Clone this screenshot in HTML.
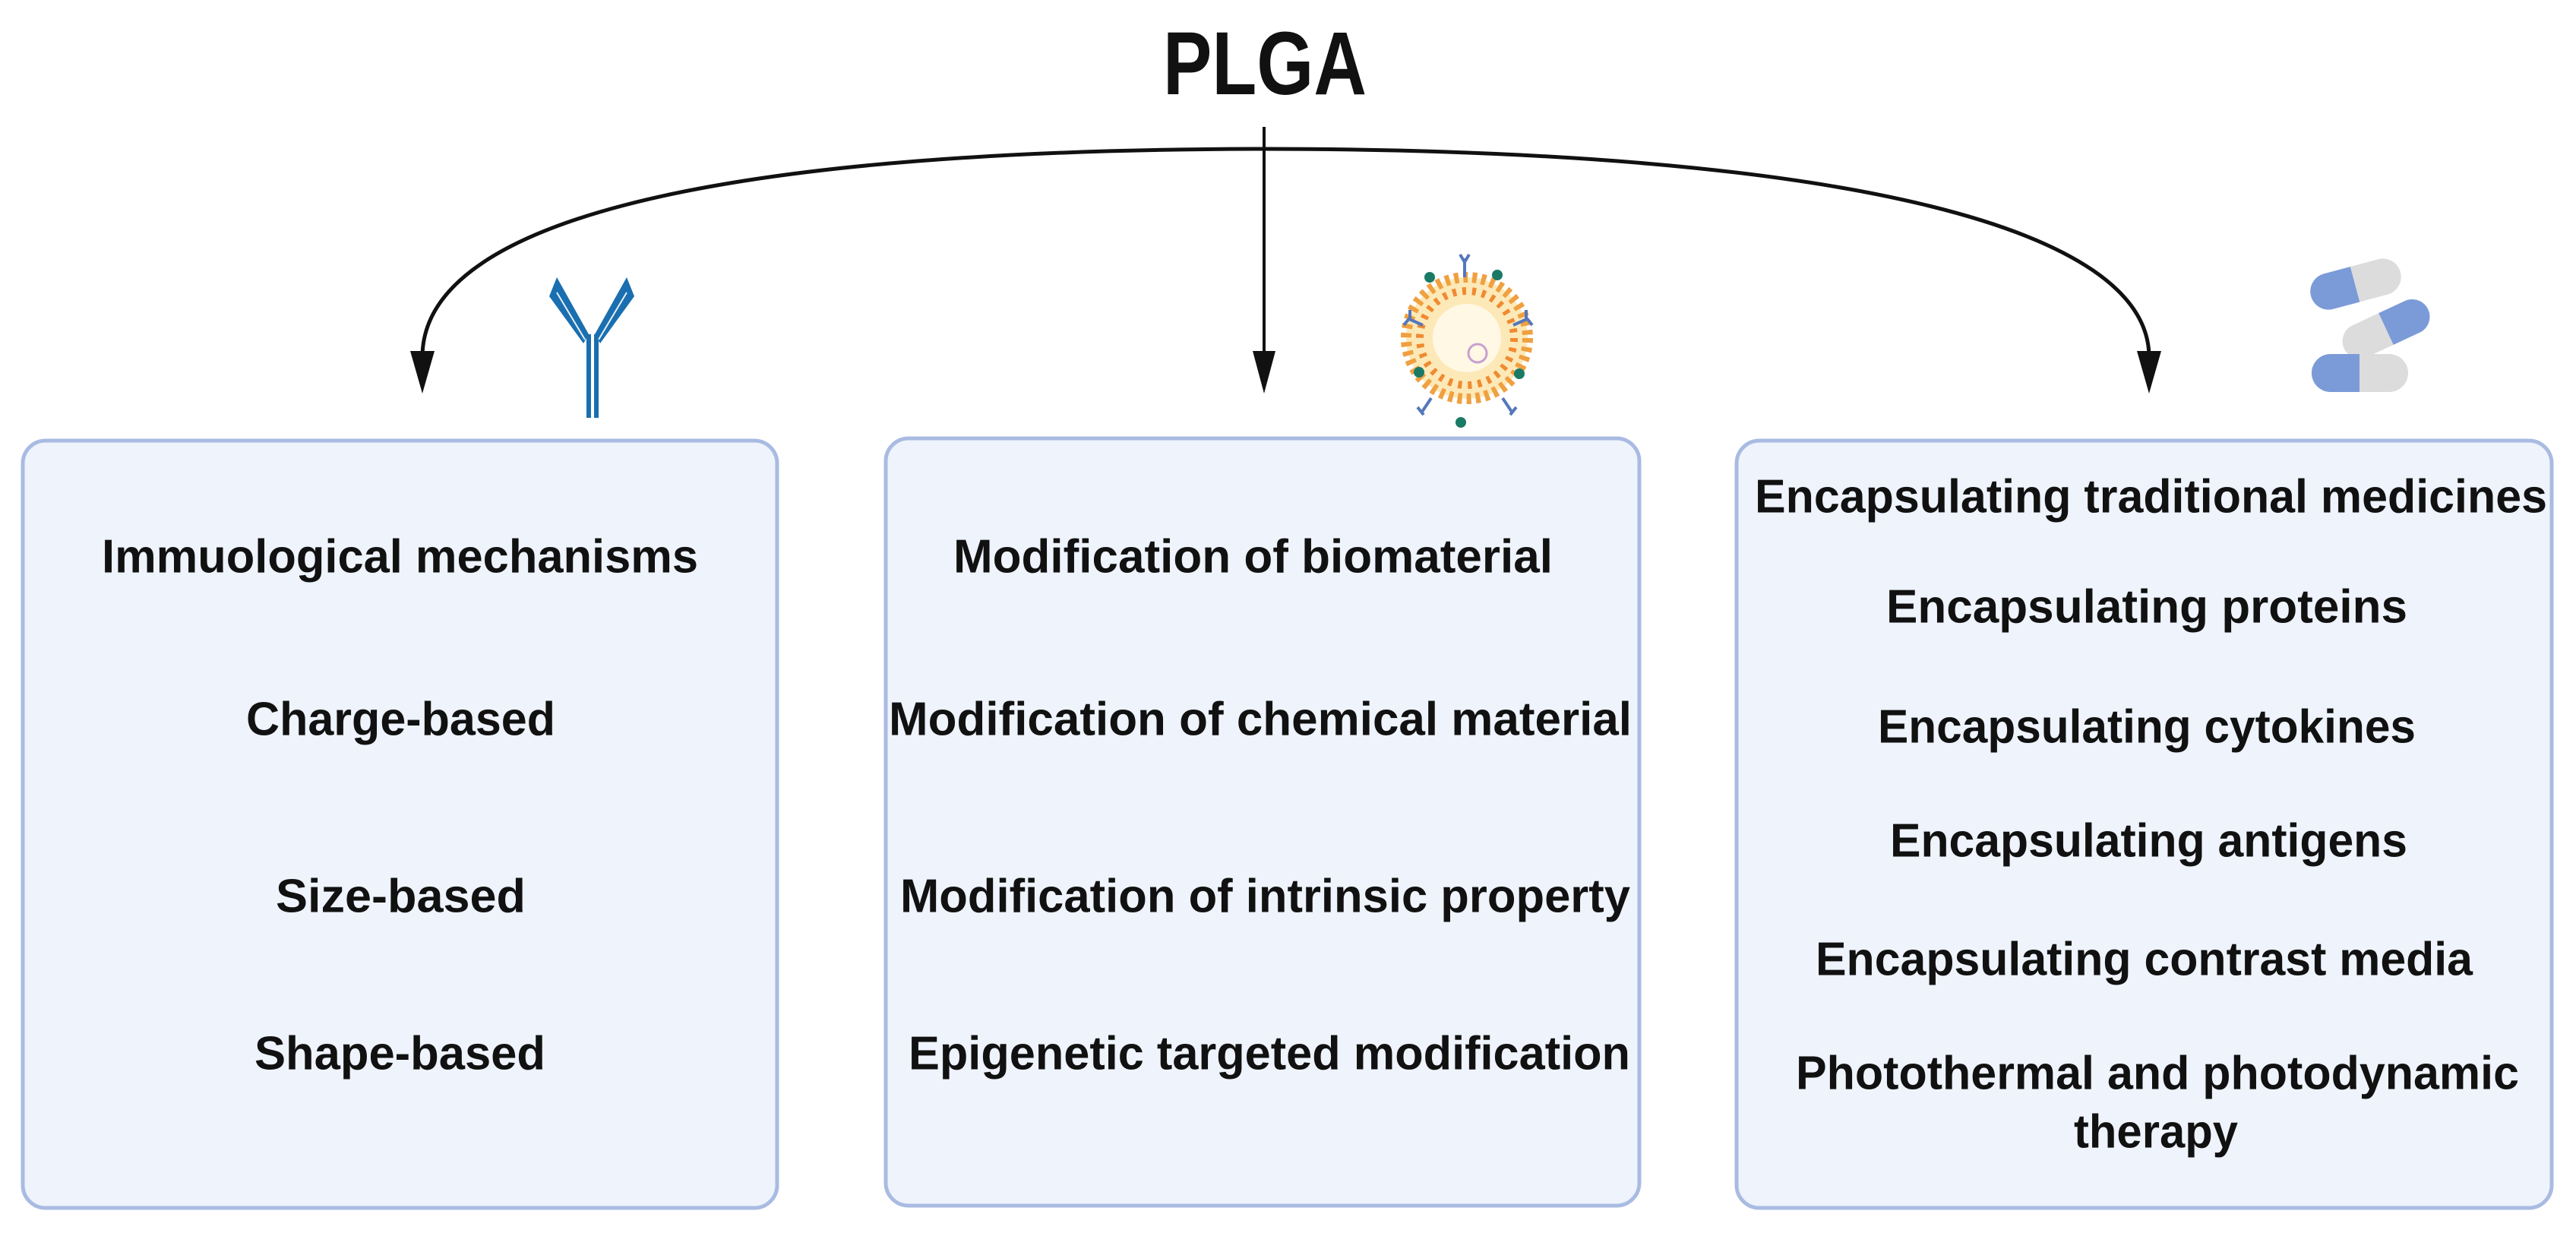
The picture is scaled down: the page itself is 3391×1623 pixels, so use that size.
<!DOCTYPE html>
<html><head><meta charset="utf-8"><style>
html,body{margin:0;padding:0;background:#fff;}
svg{display:block;}
text{font-family:"Liberation Sans Narrow","Liberation Sans",sans-serif;font-weight:bold;fill:#111;}
</style></head><body>
<svg width="3391" height="1623" viewBox="0 0 3391 1623" xmlns="http://www.w3.org/2000/svg">
<text x="1665" y="124" font-size="118" text-anchor="middle" textLength="268" lengthAdjust="spacingAndGlyphs">PLGA</text>
<path d="M556,470 C556,300 900,197 1665,196 C2430,197 2829,300 2829,470" fill="none" stroke="#111" stroke-width="5"/>
<polygon points="540,462 572,462 556,518" fill="#111"/>
<polygon points="2813,462 2845,462 2829,518" fill="#111"/>
<line x1="1664" y1="167" x2="1664" y2="470" stroke="#111" stroke-width="4"/>
<polygon points="1649,462 1679,462 1664,518" fill="#111"/>
<g fill="#1a6fb0">
<rect x="772" y="440" width="6" height="110"/><rect x="782" y="440" width="6" height="110"/>
<polygon points="723,390 733,365 775,440 768,452"/>
<polygon points="835,390 825,365 783,440 790,452"/>
</g>
<g stroke="#e8f0f8" stroke-width="2"><line x1="733" y1="385" x2="770" y2="447"/><line x1="825" y1="385" x2="788" y2="447"/></g>
<g>
<circle cx="1931" cy="445" r="80" fill="#fde9b8" stroke="#f0a040" stroke-width="14" stroke-dasharray="6 6"/>
<circle cx="1931" cy="445" r="62" fill="none" stroke="#f08a30" stroke-width="10" stroke-dasharray="5 8"/>
<circle cx="1931" cy="445" r="45" fill="#fff8e4"/>
<circle cx="1945" cy="465" r="12" fill="none" stroke="#c8a0d0" stroke-width="3"/>
<g fill="#1a7a66"><circle cx="1882" cy="365" r="7"/><circle cx="1971" cy="362" r="7"/><circle cx="1868" cy="490" r="7"/><circle cx="2000" cy="492" r="7"/><circle cx="1923" cy="556" r="7"/></g>
<g stroke="#5577bb" stroke-width="4" fill="none"><path d="M1928,340 v25 M1922,335 l6,10 l6,-10"/><path d="M1855,420 l18,8 M1848,428 l8,-10 l0,-10"/><path d="M2010,420 l-18,8 M2017,428 l-8,-10 l0,-10"/><path d="M1872,542 l12,-18 M1866,536 l8,10"/><path d="M1990,542 l-12,-18 M1996,536 l-8,10"/></g>
</g>
<g transform="rotate(-15 3101 374)"><rect x="3040" y="350" width="122" height="48" rx="24" fill="#dcdcdc"/><path d="M3064,350 h36 v48 h-36 a24,24 0 0 1 0,-48z" fill="#7b9bd8"/></g>
<g transform="rotate(-25 3141 433)"><rect x="3080" y="410" width="122" height="46" rx="23" fill="#dcdcdc"/><path d="M3141,410 h38 a23,23 0 0 1 0,46 h-38z" fill="#7b9bd8"/></g>
<rect x="3043" y="466" width="127" height="50" rx="25" fill="#dcdcdc"/><path d="M3068,466 h38 v50 h-38 a25,25 0 0 1 0,-50z" fill="#7b9bd8"/>
<g fill="#eef3fc" stroke="#a9bbe2" stroke-width="5">
<rect x="30" y="580" width="993" height="1010" rx="30"/>
<rect x="1166" y="577" width="992" height="1010" rx="30"/>
<rect x="2286" y="580" width="1073" height="1010" rx="30"/>
</g>
<g font-size="62" dominant-baseline="central">
<text x="134" y="733" textLength="785" lengthAdjust="spacingAndGlyphs">Immuological mechanisms</text>
<text x="324" y="947" textLength="407" lengthAdjust="spacingAndGlyphs">Charge-based</text>
<text x="363" y="1180" textLength="329" lengthAdjust="spacingAndGlyphs">Size-based</text>
<text x="335" y="1387" textLength="383" lengthAdjust="spacingAndGlyphs">Shape-based</text>
<text x="1255" y="733" textLength="789" lengthAdjust="spacingAndGlyphs">Modification of biomaterial</text>
<text x="1170" y="947" textLength="978" lengthAdjust="spacingAndGlyphs">Modification of chemical material</text>
<text x="1185" y="1180" textLength="961" lengthAdjust="spacingAndGlyphs">Modification of intrinsic property</text>
<text x="1196" y="1387" textLength="950" lengthAdjust="spacingAndGlyphs">Epigenetic targeted modification</text>
<text x="2310" y="654" textLength="1043" lengthAdjust="spacingAndGlyphs">Encapsulating traditional medicines</text>
<text x="2483" y="799" textLength="686" lengthAdjust="spacingAndGlyphs">Encapsulating  proteins</text>
<text x="2472" y="957" textLength="708" lengthAdjust="spacingAndGlyphs">Encapsulating cytokines</text>
<text x="2488" y="1107" textLength="681" lengthAdjust="spacingAndGlyphs">Encapsulating antigens</text>
<text x="2390" y="1263" textLength="865" lengthAdjust="spacingAndGlyphs">Encapsulating contrast media</text>
<text x="2364" y="1413" textLength="952" lengthAdjust="spacingAndGlyphs">Photothermal and photodynamic</text>
<text x="2730" y="1490" textLength="216" lengthAdjust="spacingAndGlyphs">therapy</text>
</g>
</svg>
</body></html>
